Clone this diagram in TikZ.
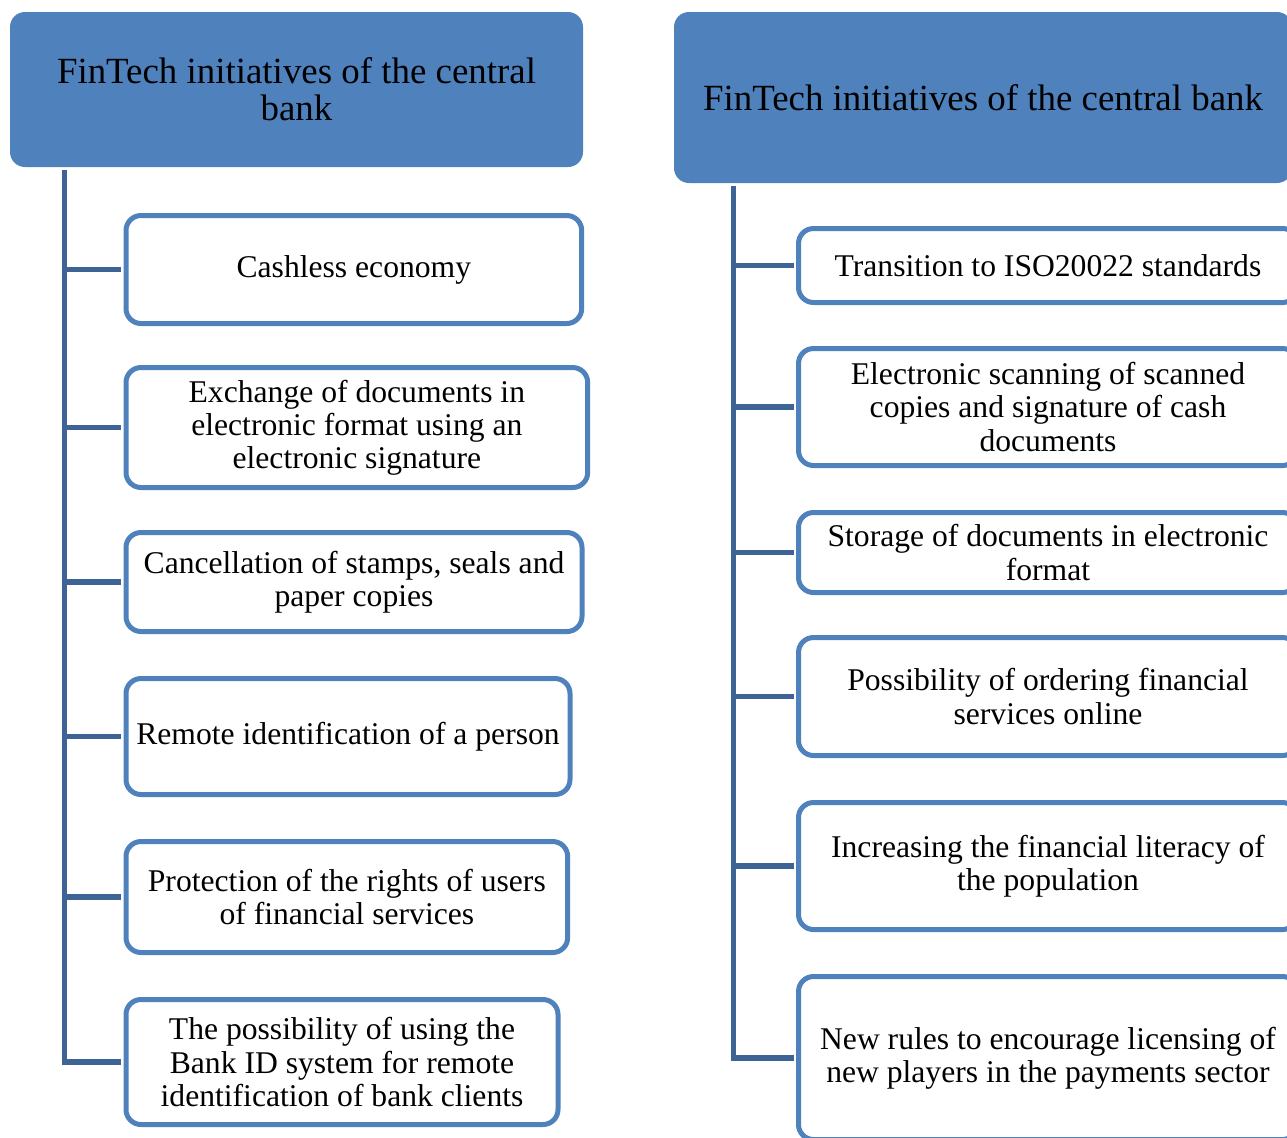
\documentclass[tikz,border=0pt]{standalone}
\usepackage{fontspec}
\setmainfont{Liberation Serif}
\definecolor{headblue}{RGB}{79,129,189}
\definecolor{stemblue}{RGB}{62,100,150}
\tikzset{
  headbox/.style={fill=headblue, rounded corners=0.3cm, align=center, inner sep=0pt,
    font=\fontsize{21}{21.2}\selectfont},
  itembox/.style={draw=headblue, fill=white, line width=0.1cm, rounded corners=0.3cm,
    align=center, inner sep=0pt, anchor=west, font=\fontsize{18}{18.9}\selectfont},
  stem/.style={draw=stemblue, line width=0.11cm}
}
\begin{document}
\begin{tikzpicture}[x=0.02cm, y=-0.02cm]
\useasboundingbox (0,0) rectangle (1287,1137);
\clip (0,0) rectangle (1287,1137);

% headers
\node[headbox, minimum width=573*0.02cm, minimum height=155*0.02cm] (lhead) at (296.5,89.5)
  {FinTech initiatives of the central\\bank};
\node[headbox, minimum width=618*0.02cm, minimum height=171*0.02cm] (rhead) at (983,97.5)
  {FinTech initiatives of the central bank};

% left column
\foreach \i/\cy/\w/\h/\txt in {
  1/269.5/455.7/108/{Cashless economy},
  2/427.5/461.7/120/{Exchange of documents in\\electronic format using an\\electronic signature},
  3/582/456/99/{Cancellation of stamps, seals and\\paper copies},
  4/736.5/444/116/{Remote identification of a person},
  5/897/441.7/111/{Protection of the rights of users\\of financial services},
  6/1062/432/125/{The possibility of using the\\Bank ID system for remote\\identification of bank clients}}
{
  \node[itembox, minimum width=\w*0.02cm, minimum height=\h*0.02cm] (l\i) at (123.5,\cy) {\txt};
}

% right column
\foreach \i/\cy/\h/\txt in {
  1/265.5/74/{Transition to ISO20022 standards},
  2/407/117/{Electronic scanning of scanned\\copies and signature of cash\\documents},
  3/552.5/80/{Storage of documents in electronic\\format},
  4/696.5/118/{Possibility of ordering financial\\services online},
  5/866/127/{Increasing the financial literacy of\\the population},
  6/1058/163/{New rules to encourage licensing of\\new players in the payments sector}}
{
  \node[itembox, minimum width=499*0.02cm, minimum height=\h*0.02cm] (r\i) at (796,\cy) {\txt};
}

% trunks and branches
\coordinate (ltop) at (64.7,170);
\coordinate (rtop) at (733.7,186);
\draw[stem, shorten >=0.05cm] (ltop) |- (l6.west);
\draw[stem, shorten >=0.05cm] (rtop) |- (r6.west);
\foreach \i in {1,...,5}
{
  \draw[stem, shorten >=0.05cm] (ltop |- l\i.west) -- (l\i.west);
  \draw[stem, shorten >=0.05cm] (rtop |- r\i.west) -- (r\i.west);
}
\end{tikzpicture}
\end{document}
